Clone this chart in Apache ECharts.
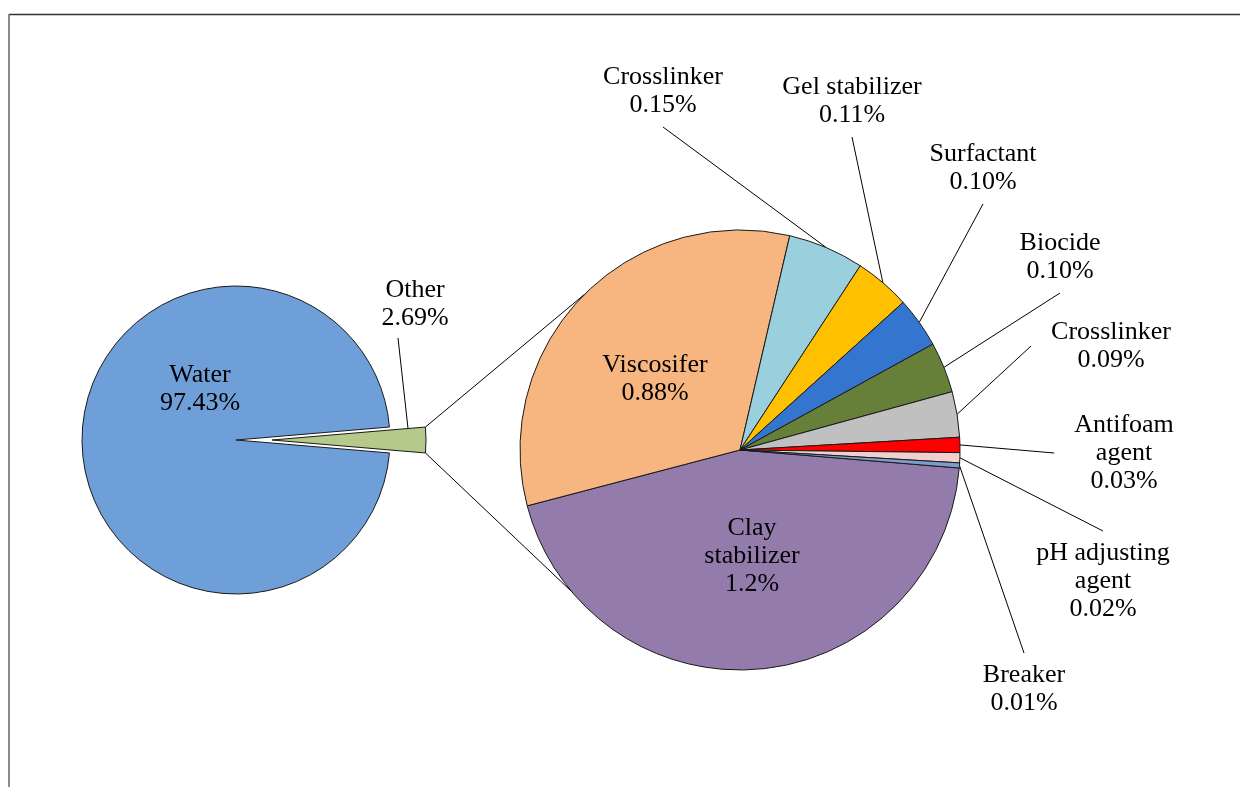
<!DOCTYPE html>
<html>
<head>
<meta charset="utf-8">
<title>Fracturing fluid composition</title>
<script src="https://cdn.jsdelivr.net/npm/echarts@6/dist/echarts.min.js"></script>
<style>
  html, body { margin: 0; padding: 0; background: #fff; }
  #main { width: 1240px; height: 787px; }
</style>
</head>
<body>
<div id="main"></div>
<script>
// first pie
var mainNames = ['Other', 'Water'];
var mainValues = [2.69, 97.43];
var mainValueText = ['2.69%', '97.43%'];

// second pie = what "Other" is made of
var otherNames = ['Clay\nstabilizer', 'Viscosifer', 'Crosslinker', 'Gel stabilizer', 'Surfactant',
                  'Biocide', 'Crosslinker', 'Antifoam\nagent', 'pH adjusting\nagent', 'Breaker'];
var otherValues = [1.2, 0.88, 0.15, 0.11, 0.10, 0.10, 0.09, 0.03, 0.02, 0.01];
var otherValueText = ['1.2%', '0.88%', '0.15%', '0.11%', '0.10%', '0.10%', '0.09%', '0.03%', '0.02%', '0.01%'];

var mainColors = ['#b5c98a', '#6f9fd8'];
var otherColors = ['#937cac', '#f7b580', '#9ad0de', '#ffc000', '#3476cf', '#66803a',
                   '#c0c0c0', '#ff0000', '#f2cfcf', '#7d9dcd'];

// layout
var leftCenter = [236, 440], leftR = 154, explode = 36;
var rightCenter = [740, 450], rightR = 220, rightStart = 355.3;
var mainLabelPos = [[415, 304], [200, 389]];
var otherLabelPos = [[752, 556], [655, 379], [663, 91], [852, 101], [983, 168],
                     [1060, 257], [1111, 346], [1124, 453], [1103, 581], [1024, 689]];
var insideCount = 2; // clay + viscosifer labels sit inside their slices
var joinAngles = [225, 140]; // where the series lines meet the second pie

var font = { fontFamily: 'Liberation Serif, Times New Roman, serif', fontSize: 26, lineHeight: 28, color: '#000' };
var edge = { borderColor: '#1a1a1a', borderWidth: 1 };
var lineStyle = { color: '#000', width: 1 };

var total = mainValues[0] + mainValues[1];
var halfDeg = mainValues[0] / total * 180;
var hr = halfDeg * Math.PI / 180;
var cx2 = leftCenter[0] + explode;

function leaderEnd(c, w, h, p) {
    var padX = 20, padY = 8;
    var dx = p[0] - c[0], dy = p[1] - c[1];
    var hw = w / 2 + padX, hh = h / 2 + padY;
    var tx = dx !== 0 ? hw / Math.abs(dx) : Infinity;
    var ty = dy !== 0 ? hh / Math.abs(dy) : Infinity;
    if (ty < tx) return [c[0], c[1] + Math.sign(dy) * hh];
    return [c[0] + Math.sign(dx) * hw, c[1]];
}

var hidden = { color: 'transparent', borderWidth: 0 };

var waterData = mainNames.map(function (n, i) {
    if (i === 0) return { name: n, value: mainValues[i], itemStyle: hidden, label: { show: false }, labelLine: { show: false } };
    return { name: n, value: mainValues[i], itemStyle: Object.assign({ color: mainColors[i] }, edge),
             label: { show: true, position: 'inside' }, labelLine: { show: false } };
});
var explodedData = mainNames.map(function (n, i) {
    if (i === 1) return { name: n, value: mainValues[i], itemStyle: hidden, label: { show: false }, labelLine: { show: false } };
    return { name: n, value: mainValues[i], itemStyle: Object.assign({ color: mainColors[i] }, edge),
             label: { show: true, position: 'outside' }, labelLine: { show: true, lineStyle: lineStyle } };
});
var rightData = otherNames.map(function (n, i) {
    var inside = i < insideCount;
    return { name: n, value: otherValues[i], itemStyle: Object.assign({ color: otherColors[i] }, edge),
             label: { show: true, position: inside ? 'inside' : 'outside' },
             labelLine: { show: !inside, lineStyle: lineStyle } };
});

function mainFormatter(p) { return p.name + '\n' + mainValueText[p.dataIndex]; }
function otherFormatter(p) { return p.name + '\n' + otherValueText[p.dataIndex]; }

var common = {
    type: 'pie', silent: true, animation: false, avoidLabelOverlap: false,
    emphasis: { disabled: true }
};

var chart = echarts.init(document.getElementById('main'));

var corners = [
    [cx2 + leftR * Math.cos(hr), leftCenter[1] - leftR * Math.sin(hr)],
    [cx2 + leftR * Math.cos(hr), leftCenter[1] + leftR * Math.sin(hr)]
];
var joins = joinAngles.map(function (a) {
    var r = a * Math.PI / 180;
    return [rightCenter[0] + rightR * Math.cos(r), rightCenter[1] + rightR * Math.sin(r)];
});

var option = {
    backgroundColor: '#fff',
    animation: false,
    graphic: [
        { type: 'line', shape: { x1: 9, y1: 14.5, x2: 1240, y2: 14.5 }, style: { stroke: '#333', lineWidth: 1.5 }, silent: true },
        { type: 'line', shape: { x1: 9, y1: 14, x2: 9, y2: 787 }, style: { stroke: '#666', lineWidth: 1.5 }, silent: true },
        { type: 'line', z: 10, shape: { x1: corners[0][0], y1: corners[0][1], x2: joins[0][0], y2: joins[0][1] }, style: { stroke: '#000', lineWidth: 1 }, silent: true },
        { type: 'line', z: 10, shape: { x1: corners[1][0], y1: corners[1][1], x2: joins[1][0], y2: joins[1][1] }, style: { stroke: '#000', lineWidth: 1 }, silent: true }
    ],
    series: [
        Object.assign({}, common, {
            center: leftCenter, radius: leftR, startAngle: halfDeg,
            label: Object.assign({ formatter: mainFormatter }, font),
            data: waterData,
            labelLayout: function (p) {
                var c = mainLabelPos[p.dataIndex];
                return { x: c[0], y: c[1], align: 'center', verticalAlign: 'middle' };
            }
        }),
        Object.assign({}, common, {
            center: [cx2, leftCenter[1]], radius: leftR, startAngle: halfDeg,
            label: Object.assign({ formatter: mainFormatter }, font),
            data: explodedData,
            labelLayout: function (p) {
                var c = mainLabelPos[p.dataIndex];
                var out = { x: c[0], y: c[1], align: 'center', verticalAlign: 'middle' };
                if (p.dataIndex === 0) {
                    // leader rises from the top edge of the pulled-out slice
                    var sx = c[0] - 7;
                    var sy = leftCenter[1] - (sx - cx2) * Math.tan(hr);
                    out.labelLinePoints = [[sx, sy], [c[0] - 17, c[1] + p.labelRect.height / 2 + 6]];
                }
                return out;
            }
        }),
        Object.assign({}, common, {
            center: rightCenter, radius: rightR, startAngle: rightStart,
            label: Object.assign({ formatter: otherFormatter }, font),
            data: rightData,
            labelLayout: function (p) {
                var c = otherLabelPos[p.dataIndex];
                var out = { x: c[0], y: c[1], align: 'center', verticalAlign: 'middle' };
                if (p.dataIndex >= insideCount && p.labelLinePoints && p.labelLinePoints.length) {
                    var start = p.labelLinePoints[0];
                    out.labelLinePoints = [start, leaderEnd(c, p.labelRect.width, p.labelRect.height, start)];
                }
                return out;
            }
        })
    ]
};

chart.setOption(option);
</script>
</body>
</html>
